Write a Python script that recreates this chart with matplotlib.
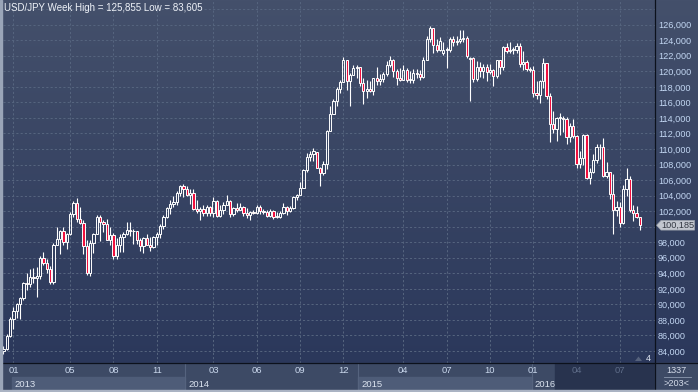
"""Weekly USD/JPY candlestick chart in a dark trading-terminal style."""

import numpy as np
import pandas as pd
import matplotlib
matplotlib.use('Agg')
import matplotlib.pyplot as plt
from matplotlib.colors import LinearSegmentedColormap
from matplotlib.patches import Rectangle, Polygon
from matplotlib.transforms import Affine2D, blended_transform_factory, offset_copy

plt.rcParams['font.family'] = ['Liberation Sans', 'DejaVu Sans']

###################################################################################################
# Data: weekly bars starting the week of 2012-12-17

start_week = '2012-12-17'

opens = [
    84.00, 84.20, 85.90, 88.15, 89.20, 90.05, 90.85, 92.70, 92.60, 93.50, 93.40, 93.60, 96.00,
    95.30, 94.50, 92.90, 97.60, 98.40, 99.50, 98.00, 99.00, 101.60, 103.00, 101.00, 100.50,
    97.50, 94.00, 97.90, 99.10, 101.20, 100.60, 100.40, 98.30, 98.90, 96.20, 97.60, 98.70,
    99.10, 99.60, 99.40, 99.40, 98.30, 97.50, 98.60, 97.70, 97.40, 98.70, 99.10, 100.10,
    101.30, 102.40, 102.90, 103.20, 104.40, 105.30,
    104.90, 104.10, 104.30, 102.30, 102.00, 102.30, 101.80, 102.50, 101.80, 103.30, 101.40,
    102.20, 102.80, 103.30, 101.60, 102.40, 102.20, 102.60, 101.80, 101.50, 101.90, 101.80,
    102.50, 102.00, 101.90, 101.40, 102.00, 101.30, 101.30, 101.80, 102.60, 102.00, 102.40,
    103.80, 104.10, 105.00, 107.30, 109.00, 109.30, 109.60, 107.60, 106.90, 108.10, 112.30,
    114.50, 116.20, 117.70, 118.60, 121.40, 118.80, 119.50, 120.40,
    120.50, 118.50, 117.50, 117.70, 117.50, 119.10, 118.70, 119.00, 119.60, 120.80, 121.40,
    120.00, 119.10, 118.90, 120.20, 118.90, 118.90, 119.80, 119.70, 119.30, 121.50, 124.10,
    125.60, 123.40, 122.70, 122.30, 122.80, 122.80, 124.10, 123.80, 123.90, 124.20, 124.30,
    121.60, 121.70, 119.00, 120.60, 120.00, 120.60, 119.90, 120.20, 119.40, 121.40, 120.60,
    123.10, 122.60, 122.80, 122.80, 123.20, 121.00, 121.20, 120.30,
    120.20, 117.20, 117.00, 118.70, 121.10, 116.80, 113.20, 112.60, 114.00, 114.00, 113.80,
    111.50, 113.00, 111.70, 108.10, 108.80, 111.80, 106.30, 107.10, 108.60, 110.20, 110.20,
    106.50, 107.00, 104.20, 102.20, 102.60, 100.50, 104.80, 106.10, 102.10, 101.80, 101.20,
]
highs = [
    84.62, 86.20, 88.40, 89.70, 90.20, 91.00, 92.90, 94.10, 94.50, 94.70, 94.80, 96.20, 96.70,
    95.80, 95.00, 97.90, 99.90, 99.60, 99.90, 99.20, 101.90, 103.30, 103.70, 102.50, 100.90,
    98.30, 98.30, 99.20, 101.50, 101.50, 100.90, 101.00, 99.90, 99.20, 98.60, 99.00, 99.30,
    100.60, 100.60, 99.70, 99.50, 98.50, 98.70, 99.00, 98.70, 98.80, 99.30, 100.30, 101.50,
    102.60, 103.40, 103.90, 104.60, 105.40, 105.44,
    105.20, 104.90, 104.80, 103.40, 102.60, 102.80, 102.80, 102.70, 103.80, 103.50, 102.80,
    103.20, 104.10, 103.40, 102.60, 103.00, 103.00, 102.70, 102.40, 102.00, 102.20, 102.80,
    102.80, 102.30, 102.10, 102.30, 102.10, 101.90, 102.00, 103.10, 102.70, 102.70, 104.00,
    104.20, 105.70, 107.40, 109.50, 109.80, 110.10, 109.60, 107.70, 108.40, 112.50, 115.60,
    116.40, 118.00, 118.90, 121.80, 121.40, 119.80, 120.80, 120.80,
    120.60, 119.20, 118.90, 118.70, 119.20, 120.50, 119.70, 119.90, 121.30, 122.00, 121.60,
    120.30, 120.40, 120.80, 120.40, 120.10, 120.30, 120.30, 120.20, 121.80, 124.50, 125.86,
    125.60, 124.20, 124.40, 123.80, 123.10, 124.40, 124.60, 124.50, 125.30, 125.30, 124.60,
    121.90, 121.80, 121.30, 121.20, 120.90, 120.90, 120.90, 120.30, 121.50, 121.50, 123.30,
    123.60, 123.80, 123.10, 123.70, 123.60, 122.60, 121.40, 120.60,
    120.70, 118.80, 118.90, 121.70, 121.10, 117.20, 114.90, 114.10, 114.60, 114.20, 114.10,
    113.30, 113.80, 111.80, 109.70, 111.90, 111.90, 107.50, 109.40, 110.60, 110.60, 111.40,
    108.30, 107.10, 106.80, 103.30, 103.20, 105.40, 107.50, 106.50, 102.80, 102.70, 101.30,
]
lows = [
    83.61, 84.10, 85.80, 86.80, 88.30, 88.10, 90.60, 91.90, 92.20, 92.80, 90.90, 93.30, 95.10,
    94.00, 92.60, 92.60, 97.60, 96.50, 97.60, 97.10, 98.90, 101.20, 100.60, 100.30, 96.50,
    93.80, 93.60, 96.60, 99.10, 98.20, 99.30, 98.30, 97.60, 95.80, 95.80, 96.80, 96.80,
    98.90, 98.80, 97.80, 97.80, 96.90, 96.60, 97.70, 96.90, 97.20, 97.60, 98.60, 99.70,
    101.10, 101.60, 102.50, 102.80, 104.00, 103.80,
    103.90, 102.90, 102.10, 101.80, 100.80, 101.40, 101.40, 101.40, 101.20, 101.20, 101.20,
    101.70, 102.80, 101.30, 101.40, 101.90, 102.10, 101.40, 101.10, 100.80, 101.60, 101.70,
    101.70, 101.70, 101.30, 101.30, 101.00, 101.10, 101.10, 101.70, 101.50, 101.90, 102.30,
    103.50, 104.10, 105.00, 107.10, 108.40, 108.40, 107.60, 105.20, 106.70, 107.40, 112.30,
    114.50, 115.50, 117.20, 118.60, 117.60, 115.60, 119.50, 119.20,
    118.10, 115.80, 116.60, 117.30, 116.90, 118.30, 118.30, 118.60, 119.40, 120.60, 119.30,
    118.30, 118.70, 118.90, 118.60, 118.50, 118.50, 119.20, 118.90, 119.20, 121.50, 123.80,
    122.40, 122.50, 122.60, 122.10, 120.40, 122.50, 123.30, 123.40, 123.70, 123.80, 121.70,
    116.20, 118.60, 118.80, 119.30, 119.20, 118.70, 119.60, 118.10, 119.20, 119.60, 120.20,
    122.30, 122.30, 122.20, 122.30, 120.60, 120.20, 120.10, 119.90,
    116.70, 116.50, 115.90, 117.90, 116.50, 110.90, 112.10, 111.00, 111.80, 112.20, 110.70,
    110.90, 111.40, 107.60, 107.60, 107.90, 106.20, 105.50, 106.90, 108.20, 108.70, 106.40,
    106.30, 103.60, 99.00, 101.40, 99.90, 100.40, 104.00, 101.90, 100.70, 101.10, 99.60,
]
closes = [
    84.20, 85.90, 88.15, 89.20, 90.05, 90.85, 92.70, 92.60, 93.50, 93.40, 93.60, 96.00, 95.30,
    94.50, 92.90, 97.60, 98.40, 99.50, 98.00, 99.00, 101.60, 103.00, 101.00, 100.50, 97.50,
    94.00, 97.90, 99.10, 101.20, 100.60, 100.40, 98.30, 98.90, 96.20, 97.60, 98.70, 99.10,
    99.60, 99.40, 99.40, 98.30, 97.50, 98.60, 97.70, 97.40, 98.70, 99.10, 100.10, 101.30,
    102.40, 102.90, 103.20, 104.40, 105.30, 104.90,
    104.10, 104.30, 102.30, 102.00, 102.30, 101.80, 102.50, 101.80, 103.30, 101.40, 102.20,
    102.80, 103.30, 101.60, 102.40, 102.20, 102.60, 101.80, 101.50, 101.90, 101.80, 102.50,
    102.00, 101.90, 101.40, 102.00, 101.30, 101.30, 101.80, 102.60, 102.00, 102.40, 103.80,
    104.10, 105.00, 107.30, 109.00, 109.30, 109.80, 107.60, 106.90, 108.10, 112.30, 114.50,
    116.20, 117.70, 118.60, 121.40, 118.80, 119.50, 120.40, 120.50,
    118.50, 117.50, 117.70, 117.50, 119.10, 118.70, 119.00, 119.60, 120.80, 121.40, 120.00,
    119.10, 118.90, 120.20, 118.90, 118.90, 119.80, 119.70, 119.30, 121.50, 124.10, 125.60,
    123.40, 122.70, 123.90, 122.80, 122.80, 124.10, 123.80, 123.90, 124.20, 124.30, 122.00,
    121.70, 119.00, 120.60, 120.00, 120.60, 119.90, 120.20, 119.40, 121.40, 120.60, 123.10,
    122.60, 122.80, 122.80, 123.20, 121.00, 121.20, 120.30, 120.20,
    117.20, 117.00, 118.70, 121.10, 116.80, 113.20, 112.60, 114.00, 114.00, 113.80, 111.50,
    113.00, 111.70, 108.10, 108.80, 111.80, 106.30, 107.10, 108.60, 110.20, 110.20, 106.50,
    107.00, 104.20, 102.20, 102.60, 100.50, 104.80, 106.10, 102.10, 101.80, 101.20, 100.185,
]

price_ticks = list(range(84, 127, 2))
grid_prices = list(range(84, 129, 2))
month_ticks = ['2013-01', '2013-05', '2013-08', '2013-11', '2014-03', '2014-06', '2014-09',
               '2014-12', '2015-04', '2015-07', '2015-10', '2016-01', '2016-04', '2016-07']
year_labels = ['2013', '2014', '2015', '2016']
title = 'USD/JPY Week High = 125,855 Low = 83,605'
bar_count_label = '1337'
bar_range_label = '>203<'
marker_count_label = '4'

###################################################################################################
# Layout (pixels)

W, H = 698, 392
PLOT_L, PLOT_R, PLOT_T, PLOT_B = 3, 655, 1, 363
SCROLL_L = 555

BG_TOP, BG_BOT = '#44506b', '#29365a'
BAR_BG, BAR_DARK, YEAR_BOX = '#3d4a65', '#28334e', '#4e5c78'
GRID = '#56657f'
UP_FILL, DOWN_FILL = 'none', '#f0103e'
LABEL = '#c2d6f2'


def price_fmt(p):
    return f'{p:.3f}'.replace('.', ',')


o, h, l, c = (np.asarray(a, dtype=float) for a in (opens, highs, lows, closes))
n_bars = len(c)
idx = np.arange(n_bars)
week_dates = pd.date_range(start_week, periods=n_bars, freq='W-MON')
month_keys = week_dates.strftime('%Y-%m')

fig = plt.figure(figsize=(W / 100, H / 100), dpi=100)
px = Affine2D().scale(1 / W, -1 / H).translate(0, 1) + fig.transFigure

# Background gradient
bg = fig.add_axes([0, 0, 1, 1])
bg.set_axis_off()
cmap = LinearSegmentedColormap.from_list('bg', [BG_TOP, BG_BOT])
bg.imshow(np.linspace(0, 1, 256)[:, None], aspect='auto', cmap=cmap, extent=(0, 1, 0, 1))
bg.set_xlim(0, 1)
bg.set_ylim(0, 1)

# Price axes
ax = fig.add_axes([PLOT_L / W, 1 - PLOT_B / H, (PLOT_R - PLOT_L) / W, (PLOT_B - PLOT_T) / H])
ax.patch.set_alpha(0)
for sp in ax.spines.values():
    sp.set_visible(False)
px_per_bar = 3.332
ax.set_xlim(-0.15, -0.15 + (PLOT_R - PLOT_L) / px_per_bar)
ax.set_ylim(82.46, 129.05)

dash = (0, (2.2, 2.2))
for p in grid_prices:
    ax.axhline(p, color=GRID, lw=0.7, ls=dash, zorder=1)

tick_idx = [int(np.argmax(month_keys == m)) for m in month_ticks]
for i in tick_idx:
    ax.axvline(i, color=GRID, lw=0.7, ls=dash, zorder=1)

# The last-price tag takes the place of the nearest price label
last = c[-1]
shown_ticks = [p for p in price_ticks if abs(p - last) > 1.0]
ax.yaxis.tick_right()
ax.set_yticks(shown_ticks)
ax.set_yticklabels([price_fmt(p) for p in shown_ticks])
ax.tick_params(axis='y', length=0, pad=2.2, labelsize=6.6, labelcolor=LABEL)
ax.set_xticks([])

# Candles
body_lo = np.minimum(o, c)
body_hi = np.maximum(o, c)
body_h = np.maximum(body_hi - body_lo, 0.06)
up = c >= o
ax.vlines(idx, body_hi, h, color='white', lw=0.8, zorder=3)
ax.vlines(idx, l, body_lo, color='white', lw=0.8, zorder=3)
ax.bar(idx[up], body_h[up], bottom=body_lo[up], width=0.68, facecolor=UP_FILL,
       edgecolor='white', linewidth=0.7, zorder=4)
ax.bar(idx[~up], body_h[~up], bottom=body_lo[~up], width=0.68, facecolor=DOWN_FILL,
       edgecolor='white', linewidth=0.7, zorder=4)

fig.text(4 / W, 1 - 8 / H, title, ha='left', va='center', fontsize=7, color='#eef2f8')

# Last price tag
tag_tr = blended_transform_factory(px, ax.transData)
half = 4.8 / 7.77
fig.add_artist(Polygon([(656.5, last), (661, last + half), (694.5, last + half),
                        (694.5, last - half), (661, last - half)], closed=True,
                       facecolor='#c3c7cf', edgecolor='#9ea4ae', lw=0.5, transform=tag_tr))
fig.text(677.5, last, price_fmt(last), transform=tag_tr, ha='center',
         va='center', fontsize=6.6, color='#333842')

# Marker counter
fig.add_artist(Polygon([(635, 361), (642, 361), (638.5, 356.5)], closed=True,
                       facecolor='#56627c', edgecolor='none', transform=px))
fig.text(648, 358.5, marker_count_label, transform=px, ha='center', va='center',
         fontsize=6.6, color='#dfe6f2')

# Time axis bar
fig.add_artist(Rectangle((0, PLOT_B), W, H - PLOT_B, transform=px, color=BAR_BG, zorder=1))
bar_tr = blended_transform_factory(ax.transData, px)
year_starts = [int(np.argmax(week_dates.year == int(y))) for y in year_labels]
year_ends = year_starts[1:] + [n_bars + 10]
for k, (y, s, e) in enumerate(zip(year_labels, year_starts, year_ends)):
    if k % 2 == 0:
        fig.add_artist(Rectangle((s - 0.5, 377.5), e - s, 12.5, transform=bar_tr,
                                 color=YEAR_BOX, zorder=2))
    if k > 0:
        fig.add_artist(plt.Line2D([s - 0.5, s - 0.5], [PLOT_B, 390], transform=bar_tr,
                                  color='#55637e', lw=0.8, zorder=2))
    fig.text(s - 0.5, 384.5, y, transform=offset_copy(bar_tr, fig=fig, x=3, units='dots'),
             ha='left', va='center', fontsize=6.8, color='#dbe3ef', zorder=3)

fig.add_artist(Rectangle((SCROLL_L, PLOT_B), PLOT_R - SCROLL_L, H - PLOT_B, transform=px,
                         color=BAR_DARK, zorder=4))
for m, i in zip(month_ticks, tick_idx):
    xpix = ax.transData.transform((i, 0))[0]
    col = '#5f6d89' if xpix > SCROLL_L else '#c9d7ec'
    fig.text(i, 370.5, m[-2:], transform=bar_tr, ha='center', va='center', fontsize=6.8,
             color=col, zorder=5)

# Bottom-right counter box
fig.add_artist(Rectangle((PLOT_R, PLOT_B), W - PLOT_R, H - PLOT_B, transform=px,
                         color=BAR_BG, zorder=4))
fig.add_artist(plt.Line2D([664, 691], [377, 377], transform=px, color='#8d9ab0', lw=0.6,
                          zorder=5))
fig.text(676.5, 370.5, bar_count_label, transform=px, ha='center', va='center', fontsize=6.6,
         color='#d5dcea', zorder=5)
fig.text(677, 383.5, bar_range_label, transform=px, ha='center', va='center', fontsize=6.6,
         color='#d5dcea', zorder=5)

# Separators and frame
fig.add_artist(plt.Line2D([PLOT_R, PLOT_R], [0, H], transform=px, color='#0c111c', lw=0.9,
                          zorder=6))
fig.add_artist(plt.Line2D([0, W], [PLOT_B, PLOT_B], transform=px, color='#0c111c', lw=0.9,
                          zorder=6))
fig.add_artist(Rectangle((0, 0), 2.2, H, transform=px, color='#9aa5b8', zorder=7))
fig.add_artist(Rectangle((0, 390), W, 2, transform=px, color='#aab3c3', zorder=7))

fig.savefig('out.png', dpi=100)
